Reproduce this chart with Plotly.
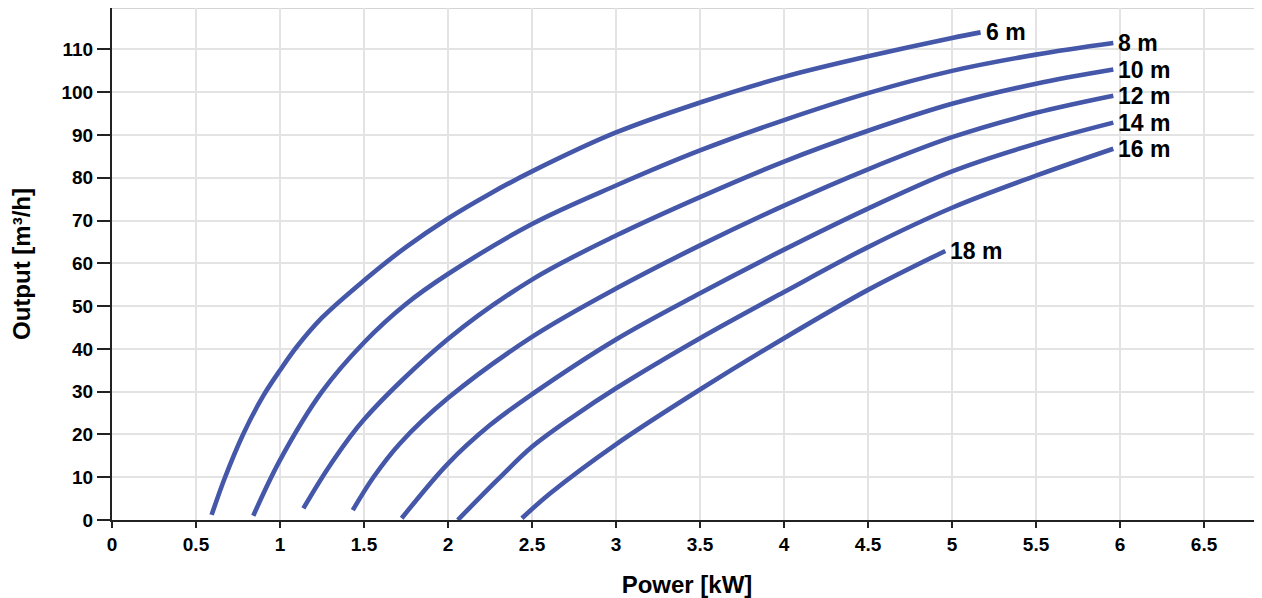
import plotly.graph_objects as go

# ---- data ----
head_labels = ["6 m", "8 m", "10 m", "12 m", "14 m", "16 m", "18 m"]

power_6 = [0.593, 0.673, 0.78, 0.9, 1.0, 1.1, 1.25, 1.5, 1.75, 2.0, 2.25, 2.5, 3.0, 3.5, 4.0, 4.5, 5.0, 5.17]
output_6 = [1.2, 10, 20, 29, 35, 40.5, 47.3, 56, 63.8, 70.5, 76.3, 81.5, 90.6, 97.6, 103.6, 108.4, 112.7, 114.0]

power_8 = [0.841, 1.0, 1.25, 1.5, 1.75, 2.0, 2.5, 3.0, 3.5, 4.0, 4.5, 5.0, 5.5, 5.96]
output_8 = [1.0, 14.0, 30, 41.5, 50.5, 57.5, 69.2, 78.2, 86.4, 93.5, 99.8, 105.0, 108.8, 111.5]

power_10 = [1.139, 1.298, 1.5, 2.0, 2.5, 3.0, 3.5, 4.0, 4.5, 5.0, 5.5, 5.96]
output_10 = [2.7, 12.8, 23.5, 42.3, 56.2, 66.5, 75.5, 83.8, 91.0, 97.3, 102.0, 105.3]

power_12 = [1.433, 1.556, 1.714, 2.0, 2.5, 3.0, 3.5, 4.0, 4.5, 5.0, 5.5, 5.96]
output_12 = [2.3, 10, 17.9, 28.5, 42.8, 54.1, 64.2, 73.5, 82.0, 89.5, 95.2, 99.2]

power_14 = [1.724, 2.0, 2.25, 2.5, 3.0, 3.5, 4.0, 4.5, 5.0, 5.5, 5.96]
output_14 = [0.4, 13.2, 22.2, 29.4, 42.2, 53.0, 63.2, 72.8, 81.5, 88.0, 92.9]

power_16 = [2.058, 2.3, 2.5, 2.75, 3.0, 3.5, 4.0, 4.5, 5.0, 5.5, 5.96]
output_16 = [0.0, 9.6, 17.1, 24.3, 30.8, 42.5, 53.3, 63.8, 73.0, 80.5, 86.8]

power_18 = [2.44, 2.607, 3.0, 3.5, 4.0, 4.5, 4.96]
output_18 = [0.4, 6.2, 17.7, 30.5, 42.5, 53.8, 62.9]

x_ticks = [0, 0.5, 1, 1.5, 2, 2.5, 3, 3.5, 4, 4.5, 5, 5.5, 6, 6.5]
y_ticks = [0, 10, 20, 30, 40, 50, 60, 70, 80, 90, 100, 110]

series = [
    (power_6, output_6),
    (power_8, output_8),
    (power_10, output_10),
    (power_12, output_12),
    (power_14, output_14),
    (power_16, output_16),
    (power_18, output_18),
]

LINE_COLOR = "#4557a8"
FONT = "Liberation Sans, Arial, sans-serif"
Y_TOP = 119.7

fig = go.Figure()
annotations = []
for label, (xs, ys) in zip(head_labels, series):
    fig.add_trace(go.Scatter(
        x=xs, y=ys, mode="lines", name=label,
        line=dict(color=LINE_COLOR, width=4.6, shape="spline", smoothing=1.0),
        hoverinfo="x+y+name",
    ))
    annotations.append(dict(
        x=xs[-1], y=ys[-1], xref="x", yref="y", text=label,
        showarrow=False, xanchor="left", yanchor="middle", xshift=3,
        font=dict(family=FONT, size=23, color="black", weight="bold"),
    ))

fig.update_layout(
    width=1254, height=590,
    margin=dict(l=104, r=0, t=0, b=78),
    paper_bgcolor="white", plot_bgcolor="white",
    showlegend=False,
    annotations=annotations,
    font=dict(family=FONT, color="black"),
    shapes=[dict(type="line", xref="paper", yref="y", x0=0, x1=1, y0=Y_TOP, y1=Y_TOP,
                 line=dict(color="#d4d4d4", width=2), layer="below")],
)

fig.update_xaxes(
    range=[0, 6.845], tickvals=x_ticks, ticktext=[f"{v:g}" for v in x_ticks],
    showgrid=True, gridcolor="#e3e3e3", gridwidth=1.5,
    showline=True, linecolor="#222", linewidth=2,
    ticks="outside", ticklen=6, tickwidth=2, tickcolor="#222",
    tickfont=dict(family=FONT, size=19, color="black", weight="bold"),
    zeroline=False,
    title=dict(text="Power [kW]", font=dict(family=FONT, size=24, color="black", weight="bold"), standoff=25),
)
fig.update_yaxes(
    range=[0, Y_TOP], tickvals=y_ticks, ticktext=[str(v) for v in y_ticks],
    showgrid=True, gridcolor="#e3e3e3", gridwidth=1.5,
    showline=True, linecolor="#222", linewidth=2,
    ticks="outside", ticklen=13, tickwidth=2, tickcolor="#222",
    tickfont=dict(family=FONT, size=19, color="black", weight="bold"),
    zeroline=False,
    title=dict(text="Output [m³/h]", font=dict(family=FONT, size=24, color="black", weight="bold"), standoff=26),
)

fig.write_html("out.html")
